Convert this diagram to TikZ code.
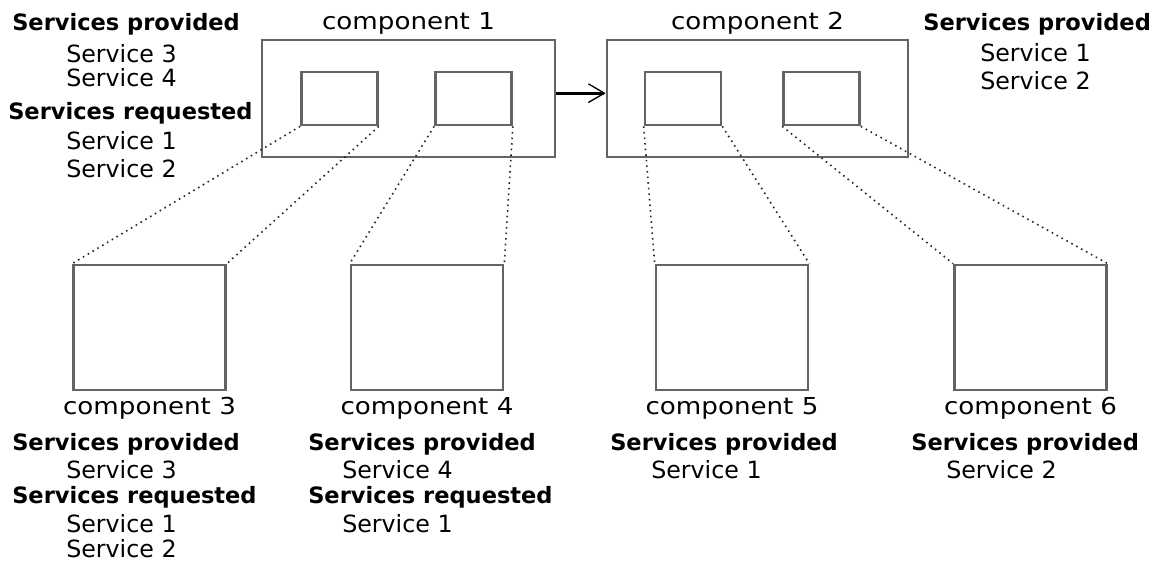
\documentclass[tikz,border=0pt]{standalone}
\usepackage{fontspec}
\setmainfont{DejaVu Sans}
\newfontfamily\labelfont[FakeStretch=1.12]{DejaVu Sans}
\usetikzlibrary{positioning}
\usetikzlibrary{arrows.meta}

\definecolor{boxgray}{RGB}{100,100,100}
\definecolor{dotgray}{RGB}{40,40,40}

\tikzset{
	box/.style={draw=boxgray, line width=2pt, inner sep=0pt},
	comp/.style={box, minimum height=87.75pt},
	part/.style={box, minimum width=57pt, minimum height=39.75pt},
	sub/.style={box, minimum width=114pt, minimum height=93.75pt},
	cname/.style={inner sep=1pt, font=\labelfont\fontsize{17.5}{19}\selectfont},
	head/.style={anchor=base west, inner sep=0pt, font=\bfseries\fontsize{16.9}{18}\selectfont},
	serv/.style={anchor=base west, inner sep=0pt, font=\fontsize{17.8}{19}\selectfont},
	link/.style={draw=dotgray, line width=1.2pt, dash pattern=on 1.2pt off 3pt}
}

\begin{document}
\begin{tikzpicture}[x=0.75pt,y=-0.75pt]
	\useasboundingbox (0,0) rectangle (1164,565);

	% the two top level components and their parts
	\node [comp, minimum width=219.75pt] (comp1) at (408.5,98.5) {};
	\node [comp, minimum width=225.75pt] (comp2) at (757.5,98.5) {};
	\node [part] (comp1a) at (339.5,98.5) {};
	\node [part] (comp1b) at (473.5,98.5) {};
	\node [part] (comp2a) at (683,98.5) {};
	\node [part] (comp2b) at (821.5,98.5) {};
	\draw [-{Straight Barb[length=12pt,width=14pt,line width=1pt]}, line width=2.2pt]
		([yshift=4pt]comp1.east) -- ([yshift=4pt]comp2.west);
	\node [cname, above=2pt of comp1] (name1) {component 1};
	\node [cname, above=2pt of comp2] (name2) {component 2};

	% sub components
	\node [sub] (comp3) at (149.5,327.5) {};
	\node [sub] (comp4) at (427,327.5) {};
	\node [sub] (comp5) at (732,327.5) {};
	\node [sub] (comp6) at (1030.5,327.5) {};
	\foreach \n in {3,...,6}
		\node [cname, below=3.5pt of comp\n] (name\n) {component \n};

	% zoom lines from the parts to the sub components
	\draw [link] (comp1a.south west) -- (comp3.north west);
	\draw [link] (comp1a.south east) -- (comp3.north east);
	\draw [link] (comp1b.south west) -- (comp4.north west);
	\draw [link] (comp1b.south east) -- (comp4.north east);
	\draw [link] (comp2a.south west) -- (comp5.north west);
	\draw [link] (comp2a.south east) -- (comp5.north east);
	\draw [link] (comp2b.south west) -- (comp6.north west);
	\draw [link] (comp2b.south east) -- (comp6.north east);

	% services of component 1
	\node [head] (prov1) at (12,30) {Services provided};
	\node [serv] at (66,62) {Service 3};
	\node [serv] at (66,86) {Service 4};
	\node [head] (req1) at (8,119) {Services requested};
	\node [serv] at (66,149) {Service 1};
	\node [serv] at (66,177) {Service 2};

	% services of component 2
	\node [head] (prov2) at (923,30) {Services provided};
	\node [serv] at (980,61) {Service 1};
	\node [serv] at (980,89) {Service 2};

	% services of component 3
	\node [head] (prov3) at (12,450) {Services provided};
	\node [serv] at (66,478) {Service 3};
	\node [head] (req3) at (12,503) {Services requested};
	\node [serv] at (66,532) {Service 1};
	\node [serv] at (66,557) {Service 2};

	% services of component 4
	\node [head] (prov4) at (308,450) {Services provided};
	\node [serv] at (342,478) {Service 4};
	\node [head] (req4) at (308,503) {Services requested};
	\node [serv] at (342,532) {Service 1};

	% services of component 5 and 6
	\node [head] (prov5) at (610,450) {Services provided};
	\node [serv] at (651,478) {Service 1};
	\node [head] (prov6) at (911,450) {Services provided};
	\node [serv] at (946,478) {Service 2};
\end{tikzpicture}
\end{document}
